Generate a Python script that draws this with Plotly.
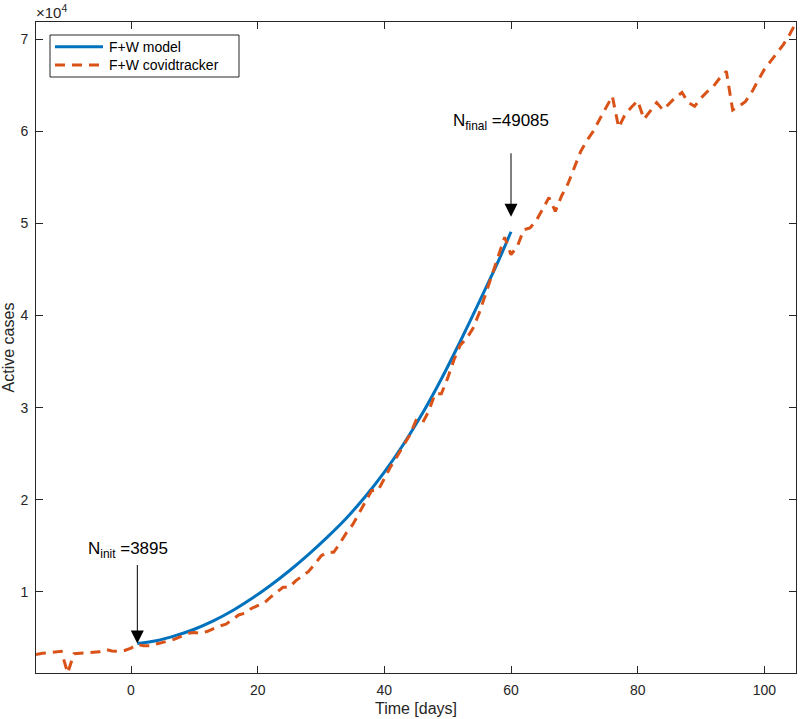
import plotly.graph_objects as go

# ---- data ----
tracker_days = list(range(-15, 106))
tracker_cases = [
    3200, 3350, 3400, 3500, 3550, 1200, 3300, 3350, 3400, 3450,
    3500, 3750, 3600, 3550, 3650, 3900,
    4300, 4150, 4150, 4350, 4500, 4700, 4900, 5200, 5500, 5600,
    5500, 5700, 6000, 6300, 6500, 7000, 7500, 7700, 8200, 8500,
    8800, 9400, 10000, 10500, 10500, 11200, 11700, 12200, 13000, 13900,
    14300, 14300, 15300, 16400, 17300, 18500, 19800, 21000, 21000, 22300,
    23600, 24700, 25800, 27000, 28600, 28300, 29600, 31500, 31500, 33200,
    35200, 36800, 37500, 38600, 40300, 42300, 44300, 46500, 48500, 46600,
    47500, 49300, 49500, 50300, 51500, 52800, 51300, 53000, 54300, 56000,
    57800, 59000, 60000, 61300, 62500, 63800, 60400, 61800, 62600, 63300,
    61300, 62200, 63100, 62300, 63000, 63700, 64200, 63100, 62700, 63600,
    64300, 64900, 65800, 66500, 62300, 62700, 63200, 64200, 65500, 66700,
    67600, 68500, 69400, 70500, 71800,
]

model_days = [1, 4, 7, 10, 13, 16, 19, 22, 25, 28, 31, 34, 37, 40, 43, 46, 49, 52, 55, 58, 60]
model_cases = [4400, 4700, 5250, 5950, 6850, 7950, 9250, 10700, 12300, 14050, 15950,
               18000, 20350, 23000, 26000, 29350, 33100, 37200, 41500, 45900, 49085]

x_ticks = [0, 20, 40, 60, 80, 100]
y_ticks = [10000, 20000, 30000, 40000, 50000, 60000, 70000]
y_tick_labels = ["1", "2", "3", "4", "5", "6", "7"]

series_names = ["F+W model", "F+W covidtracker"]
N_init_label = "N<sub>init</sub> =3895"
N_final_label = "N<sub>final</sub> =49085"

BLUE = "#0072BD"
ORANGE = "#D95319"
AX = "#262626"
FONT = "Liberation Sans, Arial, Helvetica, sans-serif"
DASH = "10px,7px"

fig = go.Figure()
fig.add_trace(go.Scatter(
    x=model_days, y=model_cases, mode="lines", name=series_names[0],
    line=dict(color=BLUE, width=3, shape="spline", smoothing=0.8),
))
fig.add_trace(go.Scatter(
    x=tracker_days, y=tracker_cases, mode="lines", name=series_names[1],
    line=dict(color=ORANGE, width=3, dash=DASH),
))

axis_common = dict(
    showgrid=False, zeroline=False, showline=True, linecolor=AX, linewidth=1,
    mirror="ticks", ticks="inside", ticklen=7, tickwidth=1, tickcolor=AX,
    tickfont=dict(family=FONT, size=14, color=AX), automargin=False,
)

fig.update_xaxes(
    range=[-15, 105], tickvals=x_ticks, ticklabelstandoff=4,
    title=dict(text="Time [days]", font=dict(family=FONT, size=16, color=AX), standoff=6),
    **axis_common,
)
fig.update_yaxes(
    range=[1200, 71850], tickvals=y_ticks, ticktext=y_tick_labels, ticklabelstandoff=4,
    title=dict(text="Active cases", font=dict(family=FONT, size=16, color=AX), standoff=6),
    **axis_common,
)

# arrows (annotations with no text) and their labels
for xd, yd, so in [(model_days[0], model_cases[0], 0), (model_days[-1], model_cases[-1], 15)]:
    fig.add_annotation(x=xd, y=yd, ax=0, ay=-80, text="",
                       showarrow=True, arrowhead=2, arrowsize=2.6, arrowwidth=1,
                       arrowcolor="black", standoff=so)
fig.add_annotation(x=model_days[0], y=model_cases[0], yshift=94, xshift=-9, text=N_init_label,
                   showarrow=False, font=dict(family=FONT, size=17, color="black"))
fig.add_annotation(x=model_days[-1], y=model_cases[-1], yshift=110, xshift=-10, text=N_final_label,
                   showarrow=False, font=dict(family=FONT, size=17, color="black"))

# exponent label
fig.add_annotation(xref="paper", yref="paper", x=0, y=1, xanchor="left", yanchor="bottom",
                   xshift=-2, yshift=-1, text="×10<sup>4</sup>", showarrow=False,
                   font=dict(family=FONT, size=15, color=AX))

# legend (drawn box, sample lines, labels)
PW, PH, PL, PB = 760.0, 651.0, 36.0, 673.0
def px(x):
    return (x - PL) / PW
def py(y):
    return (PB - y) / PH

fig.add_shape(type="rect", xref="paper", yref="paper", x0=px(50), x1=px(239), y0=py(77), y1=py(35),
              line=dict(color=AX, width=1), fillcolor="white", layer="above")
for i, (col, dash) in enumerate([(BLUE, "solid"), (ORANGE, DASH)]):
    yy = py(46.7 + 18.3 * i)
    fig.add_shape(type="line", xref="paper", yref="paper", x0=px(55), x1=px(103), y0=yy, y1=yy,
                  line=dict(color=col, width=3, dash=dash), layer="above")
    fig.add_annotation(xref="paper", yref="paper", x=px(107), y=yy, xanchor="left", yanchor="middle",
                       text=series_names[i], showarrow=False,
                       font=dict(family=FONT, size=14, color="black"))

fig.update_layout(
    width=800, height=719,
    margin=dict(l=36, r=4, t=22, b=46),
    paper_bgcolor="white", plot_bgcolor="white",
    font=dict(family=FONT, color=AX),
    showlegend=False,
)

fig.write_html("out.html", config={"displayModeBar": False},
               post_script="document.body.style.margin='0px';")
